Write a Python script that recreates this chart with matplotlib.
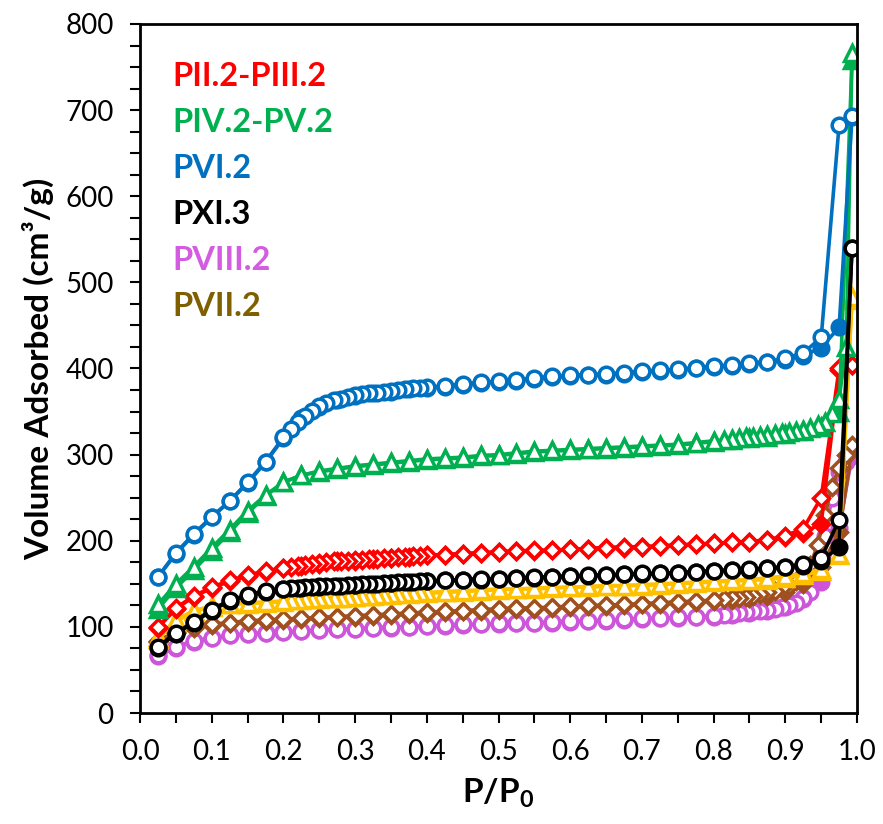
import matplotlib
matplotlib.use("Agg")
import matplotlib.pyplot as plt
from matplotlib.ticker import MultipleLocator

plt.rcParams['font.family'] = ['Lato', 'DejaVu Sans']
plt.rcParams['mathtext.fontset'] = 'custom'
plt.rcParams['mathtext.rm'] = 'Lato:bold'
plt.rcParams['mathtext.bf'] = 'Lato:bold'

# relative pressure grids
p_ads = [0.025, 0.05, 0.075, 0.1, 0.125, 0.15, 0.175, 0.2, 0.225, 0.25,
         0.275, 0.3, 0.325, 0.35, 0.375, 0.4, 0.425, 0.45, 0.475, 0.5,
         0.525, 0.55, 0.575, 0.6, 0.625, 0.65, 0.675, 0.7, 0.725, 0.75,
         0.775, 0.8, 0.825, 0.85, 0.875, 0.9, 0.925, 0.95, 0.975, 0.993]

# desorption grid, dense between 0.2 and 0.4
p_des_low = [0.993, 0.975, 0.95, 0.925, 0.9, 0.875, 0.85, 0.825, 0.8, 0.775,
             0.75, 0.725, 0.7, 0.675, 0.65, 0.625, 0.6, 0.575, 0.55, 0.525,
             0.5, 0.475, 0.45, 0.425, 0.4, 0.39, 0.38, 0.37, 0.36, 0.35,
             0.34, 0.33, 0.32, 0.31, 0.3, 0.29, 0.28, 0.27, 0.26, 0.25,
             0.24, 0.23, 0.22, 0.21, 0.2, 0.175, 0.15, 0.125, 0.1, 0.075,
             0.05, 0.025]

# desorption grid, dense between 0.8 and 0.99
p_des_high = [0.993, 0.985, 0.975, 0.965, 0.955, 0.945, 0.935, 0.925, 0.915, 0.905,
              0.895, 0.885, 0.875, 0.865, 0.855, 0.845, 0.835, 0.825, 0.815, 0.8,
              0.775, 0.75, 0.725, 0.7, 0.675, 0.65, 0.625, 0.6, 0.575, 0.55,
              0.525, 0.5, 0.475, 0.45, 0.425, 0.4, 0.375, 0.35, 0.325, 0.3,
              0.275, 0.25, 0.225, 0.2, 0.175, 0.15, 0.125, 0.1, 0.075, 0.05,
              0.025]

# PVI.2 (blue)
pvi_ads = [158, 185, 207, 227, 246, 267, 291, 319, 342, 355,
           363, 368, 371, 373, 376, 377, 379, 381, 383, 384,
           386, 388, 390, 391, 392, 393, 394, 396, 397, 398,
           400, 402, 403, 405, 407, 410, 415, 424, 448, 692]
pvi_des = [693, 683, 436, 418, 412, 408, 406, 404, 403, 401,
           399, 398, 397, 395, 394, 393, 392, 391, 389, 387,
           385, 384, 382, 380, 378, 377, 377, 376, 375, 374,
           373, 372, 371, 370, 369, 367, 365, 363, 360, 356,
           351, 345, 338, 330, 320, 292, 268, 246, 228, 208,
           186, 158]

# PIV.2-PV.2 (green)
piv_ads = [121, 145, 166, 188, 210, 232, 252, 268, 276, 280,
           283, 286, 288, 290, 292, 294, 295, 296, 298, 299,
           301, 303, 304, 305, 306, 307, 308, 309, 310, 311,
           313, 315, 317, 319, 321, 324, 327, 332, 350, 758]
piv_des = [766, 425, 365, 348, 338, 334, 331, 329, 327, 326,
           325, 324, 323, 322, 321, 320, 319, 318, 317, 316,
           314, 312, 311, 310, 309, 308, 307, 306, 305, 304,
           302, 300, 299, 297, 296, 295, 293, 291, 289, 287,
           284, 281, 276, 268, 253, 235, 213, 192, 170, 150,
           126]

# PII.2-PIII.2 (red)
pii_ads = [99, 121, 135, 145, 153, 159, 164, 168, 171, 173,
           176, 177, 179, 180, 181, 183, 184, 185, 186, 187,
           188, 188, 189, 190, 191, 192, 192, 193, 194, 195,
           196, 197, 198, 199, 201, 204, 209, 220, 398, 404]
pii_des = [404, 400, 250, 214, 206, 201, 199, 198, 197, 196,
           195, 194, 193, 193, 192, 191, 190, 189, 189, 188,
           187, 186, 185, 184, 183, 182, 182, 181, 181, 180,
           180, 179, 179, 178, 178, 177, 177, 176, 175, 174,
           173, 172, 171, 170, 168, 165, 160, 154, 146, 136,
           122, 100]

# PXI.3 (black)
pxi_ads = [76, 92, 105, 119, 130, 136, 141, 144, 145, 146,
           148, 149, 150, 151, 152, 153, 154, 155, 155, 156,
           157, 157, 158, 159, 159, 160, 161, 161, 162, 163,
           164, 165, 166, 166, 168, 169, 171, 176, 193, 540]
pxi_des = [540, 224, 180, 173, 170, 168, 167, 166, 165, 164,
           163, 162, 162, 161, 160, 160, 159, 158, 158, 157,
           156, 156, 155, 154, 153, 153, 152, 152, 152, 151,
           151, 150, 150, 150, 149, 149, 148, 148, 147, 147,
           146, 146, 145, 145, 144, 142, 137, 131, 120, 106,
           93, 77]

# unlabelled series (gold)
gold_ads = [86, 106, 118, 123, 126, 127, 128, 129, 131, 132,
            134, 135, 136, 137, 138, 139, 140, 141, 142, 143,
            144, 144, 145, 146, 146, 147, 148, 148, 149, 150,
            151, 152, 153, 154, 155, 157, 160, 165, 183, 480]
gold_des = [483, 185, 167, 162, 159, 157, 155, 154, 153, 152,
            151, 150, 149, 148, 148, 147, 146, 146, 145, 144,
            144, 143, 142, 141, 140, 140, 139, 139, 138, 138,
            137, 137, 136, 136, 135, 135, 134, 134, 133, 133,
            132, 132, 131, 131, 130, 129, 128, 127, 124, 119,
            108, 88]

# PVIII.2 (magenta)
pviii_ads = [66, 76, 83, 87, 90, 92, 93, 94, 95, 96,
             97, 98, 99, 99, 100, 101, 101, 102, 103, 103,
             104, 105, 105, 106, 107, 107, 108, 109, 110, 110,
             111, 112, 114, 116, 119, 123, 132, 152, 215, 298]
pviii_des = [303, 292, 280, 250, 205, 165, 140, 133, 128, 125,
             123, 121, 120, 119, 118, 117, 116, 115, 114, 113,
             112, 111, 110, 110, 109, 108, 107, 107, 106, 105,
             105, 104, 103, 103, 102, 101, 100, 100, 99, 98,
             97, 96, 95, 94, 93, 92, 90, 87, 84, 77,
             67]

# PVII.2 (brown)
pvii_ads = [83, 93, 99, 102, 104, 106, 107, 108, 109, 110,
            111, 112, 113, 114, 115, 116, 117, 118, 119, 120,
            121, 121, 122, 123, 124, 124, 125, 126, 127, 128,
            129, 130, 131, 133, 136, 140, 150, 170, 210, 305]
pvii_des = [311, 300, 285, 262, 230, 195, 172, 160, 153, 148,
            145, 142, 140, 138, 136, 135, 134, 133, 132, 131,
            130, 129, 128, 127, 126, 125, 125, 124, 123, 122,
            122, 121, 120, 119, 118, 117, 116, 115, 114, 113,
            112, 111, 110, 109, 108, 107, 105, 103, 100, 94,
            84]

legend_labels = ['PII.2-PIII.2', 'PIV.2-PV.2', 'PVI.2', 'PXI.3', 'PVIII.2', 'PVII.2']
legend_colors = ['#FF0000', '#00B050', '#0070C0', '#000000', '#D35CE0', '#7F6000']

fig = plt.figure(figsize=(8.83, 8.24), dpi=100)
ax = fig.add_axes([0.1586, 0.1347, 0.8120, 0.8362])

series = [
    (p_des_high, pviii_ads, pviii_des, '#CC55D9', 'o', 10.5),
    (p_des_high, pvii_ads, pvii_des, '#A0501E', 'D', 8.5),
    (p_des_low, gold_ads, gold_des, '#FFC000', '^', 11),
    (p_des_low, pii_ads, pii_des, '#FF0000', 'D', 8.5),
    (p_des_high, piv_ads, piv_des, '#00B050', '^', 11),
    (p_des_low, pvi_ads, pvi_des, '#0070C0', 'o', 10.5),
    (p_des_low, pxi_ads, pxi_des, '#000000', 'o', 10.5),
]

for p_des, v_ads, v_des, col, mk, ms in series:
    ax.plot(p_ads, v_ads, color=col, lw=2.6, marker=mk, ms=ms,
            mfc=col, mec=col, mew=2.5)
    ax.plot(p_des, v_des, color=col, lw=2.6, marker=mk, ms=ms,
            mfc='white', mec=col, mew=2.5)

for i, (lab, col) in enumerate(zip(legend_labels, legend_colors)):
    ax.text(0.045, 0.9245 - i * 0.0668, lab, color=col, fontsize=23.5,
            fontweight='bold', transform=ax.transAxes, va='center', ha='left')

ax.set_xlim(0, 1.0)
ax.set_ylim(0, 800)
ax.xaxis.set_major_locator(MultipleLocator(0.1))
ax.xaxis.set_minor_locator(MultipleLocator(0.05))
ax.yaxis.set_major_locator(MultipleLocator(100))
ax.yaxis.set_minor_locator(MultipleLocator(25))
ax.xaxis.set_major_formatter(plt.FuncFormatter(lambda v, _: f'{v:.1f}'))
ax.tick_params(which='both', direction='out', length=7, width=1.5,
               labelsize=20, pad=12)

for sp in ax.spines.values():
    sp.set_linewidth(2)

ax.set_xlabel('P/P$_0$', fontsize=24, fontweight='bold', labelpad=8)
ax.set_ylabel('Volume Adsorbed (cm³/g)', fontsize=24, fontweight='bold', labelpad=8)

fig.savefig('out.png', dpi=100)
